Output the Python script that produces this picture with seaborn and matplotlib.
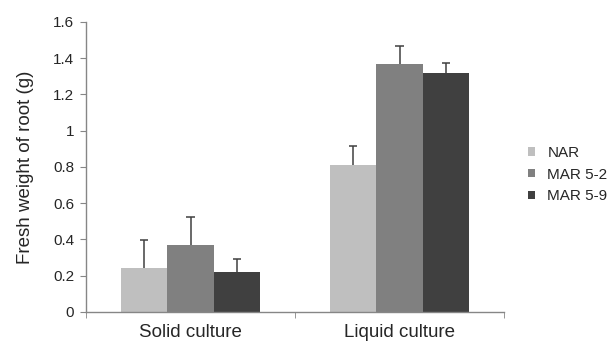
import matplotlib
matplotlib.use('Agg')
import matplotlib.pyplot as plt
import seaborn as sns
import pandas as pd
import numpy as np

# data
cultures = ['Solid culture', 'Liquid culture']
lines = ['NAR', 'MAR 5-2', 'MAR 5-9']
means = {
    'NAR': [0.24, 0.81],
    'MAR 5-2': [0.37, 1.37],
    'MAR 5-9': [0.22, 1.32],
}
errors = {
    'NAR': [0.155, 0.105],
    'MAR 5-2': [0.155, 0.095],
    'MAR 5-9': [0.075, 0.055],
}
colors = ['#BFBFBF', '#808080', '#404040']

rows = []
for ln in lines:
    for i, c in enumerate(cultures):
        rows.append({'culture': c, 'line': ln, 'weight': means[ln][i], 'err': errors[ln][i]})
df = pd.DataFrame(rows)

sns.set_style('white')
plt.rcParams['font.family'] = ['Liberation Sans', 'DejaVu Sans']

fig = plt.figure(figsize=(6.15, 3.43), dpi=100)
ax = fig.add_axes([0.14, 0.0904, 0.6795, 0.8455])

sns.barplot(data=df, x='culture', y='weight', hue='line', order=cultures,
            hue_order=lines, palette=colors, errorbar=None, width=0.665,
            saturation=1, edgecolor='none', ax=ax)

# upper error bars only (one cap at the top)
cap = 0.02
for j, ln in enumerate(lines):
    container = ax.containers[j]
    for i, patch in enumerate(container):
        xc = patch.get_x() + patch.get_width() / 2
        top = means[ln][i] + errors[ln][i]
        ax.vlines(xc, means[ln][i], top, color='#404040', linewidth=1.1)
        ax.hlines(top, xc - cap, xc + cap, color='#404040', linewidth=1.1)

ax.set_ylim(0, 1.6)
ax.set_xlim(-0.5, 1.5)
ax.set_yticks(np.arange(0, 1.61, 0.2))
ax.set_yticklabels(['0', '0.2', '0.4', '0.6', '0.8', '1', '1.2', '1.4', '1.6'])
ax.set_xlabel('')
ax.set_ylabel('Fresh weight of root (g)', fontsize=13.5, labelpad=14)
ax.tick_params(axis='y', labelsize=11, length=4.5, color='#868686', left=True, pad=4)
ax.tick_params(axis='x', labelsize=13.5, length=0, pad=9)
ax.set_xticks([0, 1])
ax.set_xticklabels(cultures)
# category separator ticks
ax.set_xticks([-0.5, 0.5, 1.5], minor=True)
ax.tick_params(axis='x', which='minor', length=4.5, color='#868686', bottom=True)

for s in ['top', 'right']:
    ax.spines[s].set_visible(False)
for s in ['left', 'bottom']:
    ax.spines[s].set_color('#868686')
    ax.spines[s].set_linewidth(1)

handles, labels = ax.get_legend_handles_labels()
ax.legend(handles, labels, loc='center left', bbox_to_anchor=(1.025, 0.474),
          frameon=False, fontsize=11, handlelength=0.45, handleheight=0.45,
          labelspacing=0.5, handletextpad=0.8)

fig.savefig('out.png', dpi=100)
